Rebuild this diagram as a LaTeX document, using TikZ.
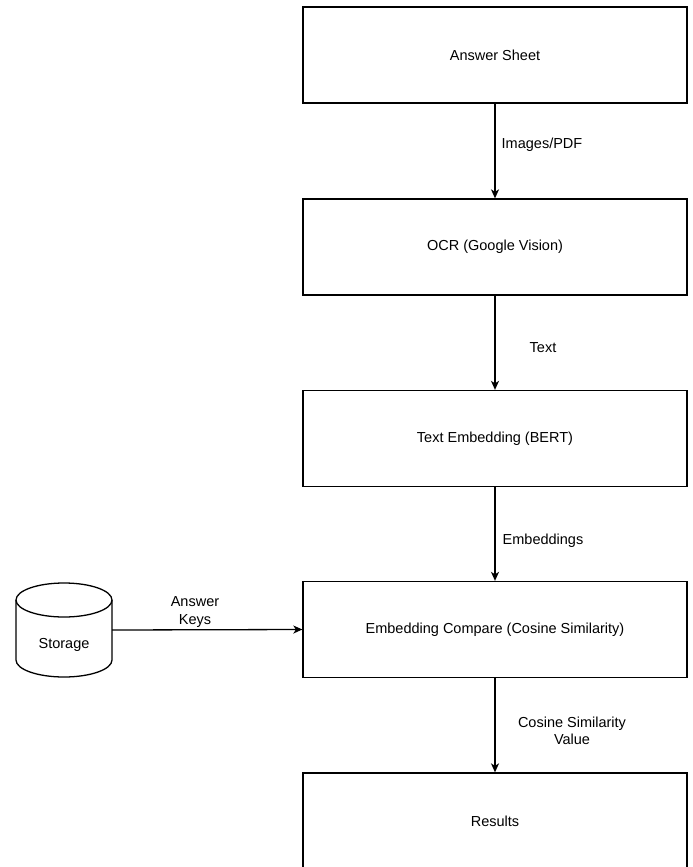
\documentclass[tikz,border=0pt]{standalone}
\usepackage{fontspec}
\setmainfont{Liberation Sans}
\usetikzlibrary{arrows.meta}
\begin{document}
\begin{tikzpicture}[x=1pt,y=-1pt,
  font=\fontsize{14.5}{17.5}\selectfont,
  box/.style={draw, line width=1.3pt, minimum width=384pt, minimum height=96pt, inner sep=0pt},
  arr/.style={draw, line width=1.3pt, -{Stealth[length=9pt,width=8pt,inset=2.5pt]}},
  lbl/.style={align=center, inner sep=1pt}
]
\useasboundingbox (0,0) rectangle (693,867);
\fill[white] (0,0) rectangle (693,867);

\node[box] (sheet) at (495,55) {Answer Sheet};
\node[box] (ocr) at (495,247) {OCR (Google Vision)};
\node[box] (emb) at (495,438.5) {Text Embedding (BERT)};
\node[box] (cmp) at (495,629.5) {Embedding Compare (Cosine Similarity)};
\node[box] (res) at (495,821) {Results};

% storage cylinder
\node[minimum width=96pt, minimum height=94pt, inner sep=0pt] (storage) at (64,630) {};
\draw[line width=1.3pt, fill=white]
  (16,600) -- (16,660) arc[start angle=180, end angle=0, x radius=48, y radius=17]
  -- (112,600) arc[start angle=0, end angle=-180, x radius=48, y radius=17] -- cycle;
\draw[line width=1.3pt] (16,600) arc[start angle=180, end angle=0, x radius=48, y radius=17];
\node (stlabel) at (64,645) {Storage};

\draw[arr] (sheet) -- (ocr);
\draw[arr] (ocr) -- (emb);
\draw[arr] (emb) -- (cmp);
\draw[arr] (cmp) -- (res);
\draw[arr] (storage.east) -- (cmp.west);

\node[lbl] (l1) at (542,145) {Images/PDF};
\node[lbl] (l2) at (543,348) {Text};
\node[lbl] (l3) at (543,541) {Embeddings};
\node[lbl] (l4) at (572,731) {Cosine Similarity\\Value};
\node[lbl] (l5) at (195,612) {Answer\\Keys};
\end{tikzpicture}
\end{document}
